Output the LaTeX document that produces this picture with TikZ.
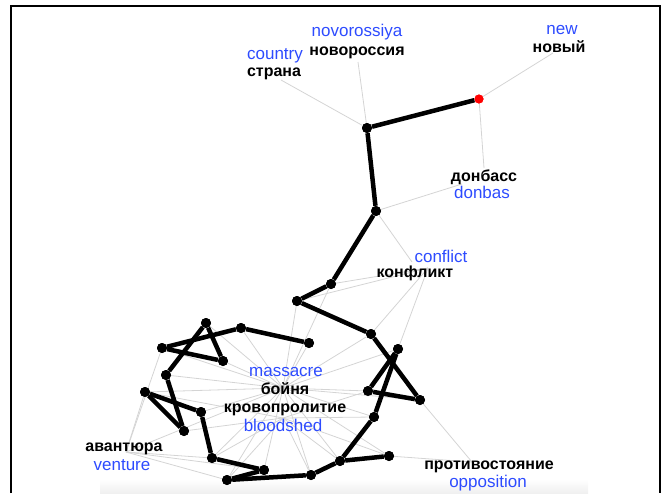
\documentclass[tikz,border=0pt]{standalone}
\usepackage{fontspec}
\setmainfont{Liberation Sans}
\usetikzlibrary{calc}
\definecolor{enblue}{RGB}{45,75,255}
\definecolor{thin}{RGB}{212,212,212}
\begin{document}
\begin{tikzpicture}[x=1pt,y=-1pt,
  dot/.style={circle,fill=black,inner sep=0pt,minimum size=10pt},
  reddot/.style={circle,fill=red,inner sep=0pt,minimum size=9pt},
  ru/.style={font=\fontsize{16}{18}\selectfont\bfseries,text=black,inner sep=0pt},
  en/.style={font=\fontsize{17}{19}\selectfont,text=enblue,inner sep=0pt},
  weak/.style={draw=thin,line width=0.8pt},
  strong/.style={draw=black,line width=4.5pt}]
\useasboundingbox (0,0) rectangle (667,493);
% bottom shadow
\shade[top color=white,bottom color=black!6] (100,479) rectangle (588,493);
% frame
\draw[line width=1.3pt] (11,493) -- (11,6) -- (660,6) -- (660,493);

% nodes
\node[reddot] (r) at (479,99) {};
\node[dot] (n1) at (367,128) {};
\node[dot] (n2) at (376,211) {};
\node[dot] (n3) at (331,284) {};
\node[dot] (n4) at (297,301) {};
\node[dot] (n5) at (371,334) {};
\node[dot] (n6) at (398,349) {};
\node[dot] (n7) at (368,391) {};
\node[dot] (n8) at (420,400) {};
\node[dot] (n10) at (374,417) {};
\node[dot] (n11) at (340,461) {};
\node[dot] (n12) at (389,456) {};
\node[dot] (n13) at (311,475) {};
\node[dot] (a1) at (206,323) {};
\node[dot] (a2) at (241,328) {};
\node[dot] (a3) at (309,343) {};
\node[dot] (a4) at (162,348) {};
\node[dot] (a5) at (223,361) {};
\node[dot] (a6) at (166,375) {};
\node[dot] (a7) at (145,392) {};
\node[dot] (a8) at (201,412) {};
\node[dot] (a9) at (184,431) {};
\node[dot] (a10) at (212,458) {};
\node[dot] (a11) at (264,470) {};
\node[dot] (a12) at (227,480) {};

% anchor points of thin links
\coordinate (hNov) at (358,62);
\coordinate (hCou) at (281,80);
\coordinate (hNew) at (553,53);
\coordinate (hDonA) at (484,168);
\coordinate (hDonB) at (462,184);
\coordinate (hK) at (412,262);
\coordinate (hKb) at (428,268);
\coordinate (hM) at (283,388);
\coordinate (hB) at (283,418);
\coordinate (hV) at (126,452);
\coordinate (hO) at (472,462);

\draw[weak] (n1) -- (hNov);
\draw[weak] (n1) -- (hCou);
\draw[weak] (r) -- (hNew);
\draw[weak] (r) -- (hDonA);
\draw[weak] (n2) -- (hDonB);
\draw[weak] (n2) -- (hK);
\draw[weak] (n3) -- (hKb);
\draw[weak] (n4) -- (hKb);
\draw[weak] (hKb) -- (n5);
\draw[weak] (hKb) -- (n6);
\foreach \n in {n3,n4,n5,n6,n7,n8,n10,n11,n12,n13,a1,a2,a3,a4,a5,a6,a7,a8,a10,a11,a12}
  \draw[weak] (hM) -- (\n);
\foreach \n in {a9,a7,a10,a12,n13,n11,n12,n10,n7}
  \draw[weak] (hB) -- (\n);
\foreach \n in {a4,a7,a10,a12,a11,hM}
  \draw[weak] (hV) -- (\n);
\draw[weak] (n8) -- (hO);
\draw[weak] (n12) -- (hO);

% strong links
\draw[strong] (r) -- (n1);
\draw[strong] (n1) -- (n2);
\draw[strong] (n2) -- (n3);
\draw[strong] (n3) -- (n4);
\draw[strong] (n4) -- (n5);
\draw[strong] (n5) -- (n8);
\draw[strong] (n6) -- (n7);
\draw[strong] (n6) -- (n10);
\draw[strong] (n7) -- (n8);
\draw[strong] (n10) -- (n11);
\draw[strong] (n11) -- (n12);
\draw[strong] (n11) -- (n13);
\draw[strong] (n13) -- (a12);
\draw[strong] (a12) -- (a11);
\draw[strong] (a11) -- (a10);
\draw[strong] (a10) -- (a8);
\draw[strong] (a7) -- (a8);
\draw[strong] (a7) -- (a9);
\draw[strong] (a6) -- (a9);
\draw[strong] (a1) -- (a6);
\draw[strong] (a1) -- (a5);
\draw[strong] (a4) -- (a5);
\draw[strong] (a4) -- (a2);
\draw[strong] (a2) -- (a3);

% dots on top of the links
\foreach \n in {n1,n2,n3,n4,n5,n6,n7,n8,n10,n11,n12,n13,a1,a2,a3,a4,a5,a6,a7,a8,a9,a10,a11,a12}
  \fill (\n) circle (5pt);
\fill[red] (r) circle (4.5pt);

% labels
\node[en] (tNovE) at (357,32) {novorossiya};
\node[ru] (tNovR) at (357,53) {новороссия};
\node[en] (tCouE) at (275,56) {country};
\node[ru] (tCouR) at (274,74) {страна};
\node[en] (tNewE) at (562,30) {new};
\node[ru] (tNewR) at (559,47) {новый};
\node[ru] (tDonR) at (484,177) {донбасс};
\node[en] (tDonE) at (482,192) {donbas};
\node[en] (tConE) at (441,256) {conflict};
\node[ru] (tConR) at (415,273) {конфликт};
\node[en] (tMasE) at (286,372) {massacre};
\node[ru] (tMasR) at (285,389) {бойня};
\node[ru] (tBloR) at (285,410) {кровопролитие};
\node[en] (tBloE) at (283,425) {bloodshed};
\node[ru] (tVenR) at (124,449) {авантюра};
\node[en] (tVenE) at (122,465) {venture};
\node[ru] (tOppR) at (489,467) {противостояние};
\node[en] (tOppE) at (488,483) {opposition};
\end{tikzpicture}
\end{document}
